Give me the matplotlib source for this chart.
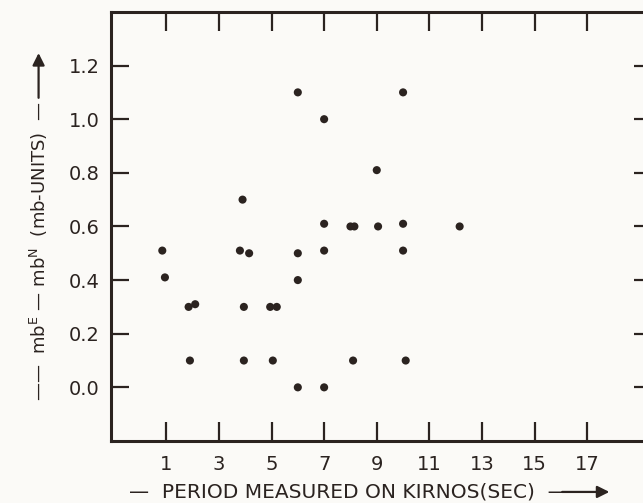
import matplotlib
matplotlib.use("Agg")
import matplotlib.pyplot as plt
from matplotlib.patches import FancyArrowPatch

# period measured on Kirnos (sec) and mb(E) - mb(N) difference
period = [0.85, 0.95, 1.85, 1.9, 2.1, 3.8, 3.9, 3.95, 3.95, 4.15,
          4.95, 5.05, 5.2, 6.0, 6.0, 6.0, 6.0, 7.0, 7.0, 7.0,
          7.0, 8.0, 8.15, 8.1, 9.0, 9.05, 10.0, 10.0, 10.0, 10.1,
          12.15]
mb_diff = [0.51, 0.41, 0.30, 0.10, 0.31, 0.51, 0.70, 0.30, 0.10, 0.50,
           0.30, 0.10, 0.30, 1.10, 0.50, 0.40, 0.00, 1.00, 0.61, 0.51,
           0.00, 0.60, 0.60, 0.10, 0.81, 0.60, 1.10, 0.61, 0.51, 0.10,
           0.60]

xticks = [1, 3, 5, 7, 9, 11, 13, 15, 17]
yticks = [0.0, 0.2, 0.4, 0.6, 0.8, 1.0, 1.2]

ink = "#2b2320"
bg = "#fbfaf7"
plt.rcParams["font.family"] = ["DejaVu Sans"]
plt.rcParams["mathtext.default"] = "regular"

fig = plt.figure(figsize=(6.43, 5.03), dpi=100, facecolor=bg)
ax = fig.add_axes([0.1726, 0.1233, 0.841, 0.853], facecolor=bg)

ax.scatter(period, mb_diff, s=34, color=ink, edgecolors="none", zorder=3)

ax.set_xlim(-1.1, 19.45)
ax.set_ylim(-0.2, 1.4)
ax.set_xticks(xticks)
ax.set_yticks(yticks)
ax.set_xticklabels([str(t) for t in xticks])
ax.set_yticklabels([f"{t:.1f}" for t in yticks])

for s in ax.spines.values():
    s.set_linewidth(2.2)
    s.set_color(ink)

ax.tick_params(axis="both", direction="in", width=1.6, color=ink,
               labelcolor=ink, labelsize=14)
ax.tick_params(axis="x", length=14, pad=10, top=True, labeltop=False)
ax.tick_params(axis="y", length=13, pad=8, right=True, labelright=False)

# x-axis label with its arrow
fig.text(0.20, 0.021, "—  PERIOD MEASURED ON KIRNOS(SEC)  —", fontsize=14.5,
         color=ink, ha="left", va="center")
fig.add_artist(FancyArrowPatch(
    (0.87, 0.022), (0.952, 0.022), transform=fig.transFigure,
    arrowstyle="-|>", mutation_scale=18, color=ink, lw=1.6))

# y-axis label with its arrow
fig.text(0.06, 0.50, r"——  mb$^{E}$ — mb$^{N}$  (mb-UNITS)  —", fontsize=13,
         color=ink, rotation=90, ha="center", va="center")
fig.add_artist(FancyArrowPatch(
    (0.06, 0.80), (0.06, 0.90), transform=fig.transFigure,
    arrowstyle="-|>", mutation_scale=18, color=ink, lw=1.6))

fig.savefig("out.png", dpi=100, facecolor=bg)
